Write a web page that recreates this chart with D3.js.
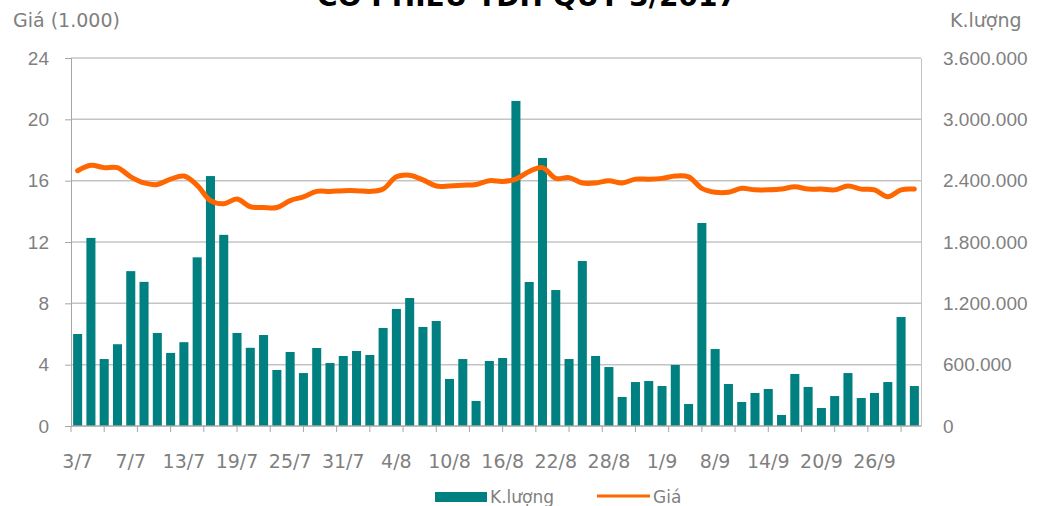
<!DOCTYPE html>
<html>
<head>
<meta charset="utf-8">
<script src="https://cdn.jsdelivr.net/npm/d3@7"></script>
<style>
  body { margin: 0; background: #fff; }
  svg { display: block; font-family: "DejaVu Sans", sans-serif; }
</style>
</head>
<body>
<div id="chart"></div>
<script>
// trading days, Q3 2017
const dates = ['3/7','4/7','5/7','6/7','7/7','10/7','11/7','12/7','13/7','14/7','17/7','18/7','19/7','20/7','21/7','24/7','25/7','26/7','27/7','28/7','31/7',
  '1/8','2/8','3/8','4/8','7/8','8/8','9/8','10/8','11/8','14/8','15/8','16/8','17/8','18/8','21/8','22/8','23/8','24/8','25/8','28/8','29/8','30/8','31/8',
  '1/9','5/9','6/9','7/9','8/9','11/9','12/9','13/9','14/9','15/9','18/9','19/9','20/9','21/9','22/9','25/9','26/9','27/9','28/9','29/9']

// K.lượng (shares)
const volume = [900000,1840000,655000,800000,1515000,1410000,910000,715000,820000,1650000,2445000,1870000,910000,765000,890000,548000,724000,518000,763000,616000,685000,
  734000,695000,959000,1145000,1252000,969000,1027000,460000,655000,245000,636000,665000,3180000,1409000,2622000,1330000,655000,1614000,685000,577000,284000,430000,
  440000,391000,597000,215000,1986000,753000,411000,235000,323000,362000,108000,509000,382000,176000,293000,518000,274000,323000,430000,1066000,391000]

// Giá (1.000 VND)
const price = [16.65,17.0,16.85,16.85,16.25,15.85,15.75,16.1,16.3,15.7,14.7,14.5,14.8,14.3,14.25,14.25,14.7,14.95,15.3,15.3,15.35,
  15.35,15.3,15.45,16.25,16.35,16.05,15.65,15.65,15.7,15.75,16.0,15.95,16.1,16.6,16.85,16.15,16.2,15.85,15.85,16.0,15.85,16.1,
  16.1,16.15,16.3,16.25,15.5,15.25,15.25,15.5,15.4,15.4,15.45,15.6,15.45,15.45,15.4,15.65,15.45,15.4,14.95,15.4,15.45]

const priceTicks = [0,4,8,12,16,20,24]
const volTicks = [0,600000,1200000,1800000,2400000,3000000,3600000]
const labelEvery = 4

const width = 1054, height = 506
const margin = {top: 58, right: 133, bottom: 80, left: 71}
const textGrey = '#7f7f7f'

const svg = d3.select('#chart').append('svg')
  .attr('width', width)
  .attr('height', height)

const x = d3.scaleBand()
  .domain(dates)
  .range([margin.left, width - margin.right])
  .paddingInner(0.32)
  .paddingOuter(0.16)

const yPrice = d3.scaleLinear().domain([0, 24]).range([height - margin.bottom, margin.top])
const yVol = d3.scaleLinear().domain([0, 3600000]).range([height - margin.bottom, margin.top])

const fmtVol = d => d3.format(',')(d).replace(/,/g, '.')

// grid
svg.append('g').selectAll('line')
  .data(priceTicks.slice(1))
  .enter().append('line')
    .attr('x1', margin.left).attr('x2', width - margin.right)
    .attr('y1', d => yPrice(d)).attr('y2', d => yPrice(d))
    .attr('stroke', '#c4c4c4').attr('stroke-width', 1.5)

// bars
svg.append('g').selectAll('rect')
  .data(volume)
  .enter().append('rect')
    .attr('x', (d, i) => x(dates[i]))
    .attr('y', d => yVol(d))
    .attr('width', x.bandwidth())
    .attr('height', d => yVol(0) - yVol(d))
    .attr('fill', '#008080')

// left axis
const left = svg.append('g')
  .attr('transform', `translate(${margin.left},0)`)
  .call(d3.axisLeft(yPrice).tickValues(priceTicks).tickSize(6).tickPadding(16))
left.selectAll('text').attr('fill', textGrey).style('font-size', '19px')
left.selectAll('line, path').attr('stroke', '#a6a6a6')

// right axis
const right = svg.append('g')
  .attr('transform', `translate(${width - margin.right},0)`)
  .call(d3.axisRight(yVol).tickValues(volTicks).tickFormat(fmtVol).tickSize(0).tickPadding(22))
right.selectAll('text').attr('fill', textGrey).style('font-size', '19px')
right.select('path').attr('stroke', '#c4c4c4')

// bottom axis: labels every 4 days, tick marks every 2.5 bands
const base = yPrice(0)
svg.append('line')
  .attr('x1', margin.left).attr('x2', width - margin.right)
  .attr('y1', base).attr('y2', base)
  .attr('stroke', '#a6a6a6').attr('stroke-width', 1.5)

const tickPos = d3.range(margin.left, width - margin.right, x.step() * 2.5)
svg.append('g').selectAll('line')
  .data(tickPos)
  .enter().append('line')
    .attr('x1', d => d).attr('x2', d => d)
    .attr('y1', base).attr('y2', base + 6)
    .attr('stroke', '#a6a6a6')

svg.append('g').selectAll('text')
  .data(dates.filter((d, i) => i % labelEvery === 0))
  .enter().append('text')
    .attr('x', d => x(d) + x.bandwidth() / 2)
    .attr('y', 468)
    .attr('text-anchor', 'middle')
    .attr('fill', textGrey)
    .style('font-size', '19px')
    .text(d => d)

// price line
const line = d3.line()
  .x((d, i) => x(dates[i]) + x.bandwidth() / 2)
  .y(d => yPrice(d))
  .curve(d3.curveCatmullRom.alpha(0.5))

svg.append('path')
  .datum(price)
  .attr('d', line)
  .attr('fill', 'none')
  .attr('stroke', '#ff6600')
  .attr('stroke-width', 5)
  .attr('stroke-linejoin', 'round')
  .attr('stroke-linecap', 'round')

// titles
svg.append('text')
  .attr('x', 527).attr('y', 6)
  .attr('text-anchor', 'middle')
  .style('font-size', '28px').style('font-weight', 'bold')
  .attr('fill', '#000')
  .text('CỔ PHIẾU TDH QUÝ 3/2017')

svg.append('text')
  .attr('x', 13).attr('y', 27)
  .attr('fill', textGrey).style('font-size', '19px')
  .text('Giá (1.000)')

svg.append('text')
  .attr('x', 950).attr('y', 27)
  .attr('fill', textGrey).style('font-size', '19px')
  .text('K.lượng')

// legend
const legend = svg.append('g').style('font-size', '17px')
legend.append('rect')
  .attr('x', 435).attr('y', 492).attr('width', 52).attr('height', 10)
  .attr('fill', '#008080')
legend.append('text')
  .attr('x', 490).attr('y', 503).attr('fill', textGrey).text('K.lượng')
legend.append('line')
  .attr('x1', 597).attr('x2', 650).attr('y1', 496).attr('y2', 496)
  .attr('stroke', '#ff6600').attr('stroke-width', 3)
legend.append('text')
  .attr('x', 653).attr('y', 503).attr('fill', textGrey).text('Giá')
</script>
</body>
</html>
